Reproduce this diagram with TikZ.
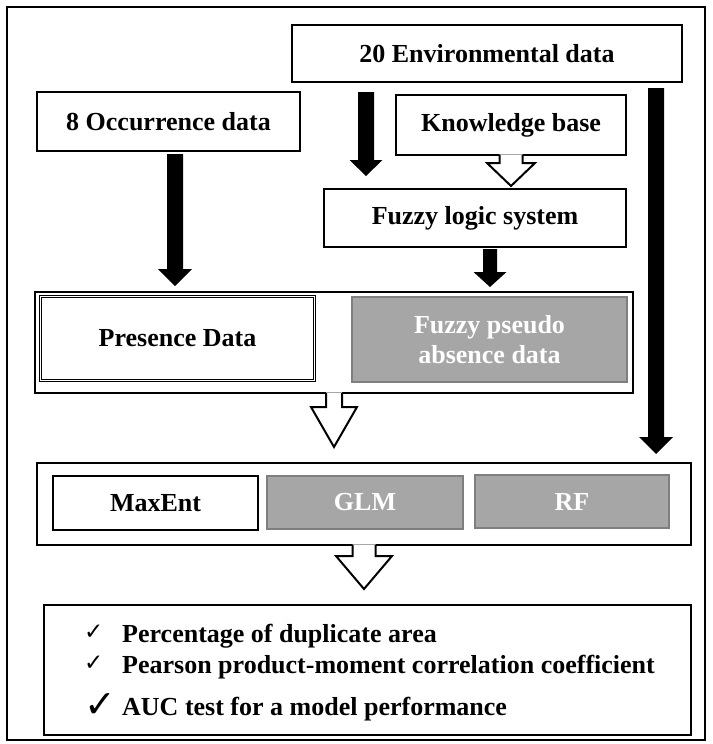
\documentclass[tikz,border=0pt]{standalone}
\usepackage{fontspec}
\setmainfont{Liberation Serif}
\newfontfamily\symfont{DejaVu Sans}
\usetikzlibrary{calc}
\definecolor{boxgray}{HTML}{A6A6A6}
\definecolor{edgegray}{HTML}{7F7F7F}
\newcommand\lbl{\bfseries\fontsize{26}{30}\selectfont}
\newcommand\solidarrow[5]{%
  \fill let \p1=(#1), \p2=(#2) in
   (\x1-#3,\y1) -- (\x1-#3,\y2+#5) -- (\x1-#4,\y2+#5) -- (\x1,\y2) --
   (\x1+#4,\y2+#5) -- (\x1+#3,\y2+#5) -- (\x1+#3,\y1) -- cycle;}
\newcommand\openarrow[5]{%
  \fill[white] let \p1=(#1), \p2=(#2) in
   (\x1-#3,\y1+1.6pt) -- (\x1-#3,\y2+#5) -- (\x1-#4,\y2+#5) -- (\x1,\y2) --
   (\x1+#4,\y2+#5) -- (\x1+#3,\y2+#5) -- (\x1+#3,\y1+1.6pt) -- cycle;
  \draw[line width=2pt, line join=miter] let \p1=(#1), \p2=(#2) in
   (\x1-#3,\y1+1pt) -- (\x1-#3,\y2+#5) -- (\x1-#4,\y2+#5) -- (\x1,\y2) --
   (\x1+#4,\y2+#5) -- (\x1+#3,\y2+#5) -- (\x1+#3,\y1+1pt);}
\tikzset{
  box/.style={draw, line width=2pt, fill=white, inner sep=0pt, font=\lbl, align=center},
  graybox/.style={draw=edgegray, line width=2pt, fill=boxgray, text=white, inner sep=0pt, font=\lbl, align=center},
  dblbox/.style={draw, line width=1.3pt, double=white, double distance=1.2pt, fill=white, inner sep=0pt, font=\lbl, align=center},
  listtext/.style={anchor=base west, inner sep=0pt, font=\lbl},
  checkmark/.style={anchor=base west, inner sep=0pt}
}
\begin{document}
\begin{tikzpicture}[x=1pt, y=-1pt]
\useasboundingbox (0,0) rectangle (712,744);
\fill[white] (0,0) rectangle (712,744);
% outer frame
\draw[line width=2pt] (7,7) rectangle (705,740);

% boxes
\node[box, minimum width=390pt, minimum height=57pt] (env) at (487,53.5) {20 Environmental data};
\node[box, minimum width=263pt, minimum height=59pt] (occ) at (168.5,121.5) {8 Occurrence data};
\node[box, minimum width=230pt, minimum height=60pt] (kb) at (511,125) {Knowledge base};
\node[box, minimum width=302pt, minimum height=58pt] (fls) at (475,218) {Fuzzy logic system};

\node[box, minimum width=598pt, minimum height=101pt] (grp) at (334,342.5) {};
\node[dblbox, minimum width=274pt, minimum height=84pt] (pres) at (177.5,338.5) {Presence Data};
\node[graybox, minimum width=275pt, minimum height=85pt] (pseudo) at (489.5,339.5) {Fuzzy pseudo\\absence data};

\node[box, minimum width=654pt, minimum height=82pt] (mod) at (364,504) {};
\node[box, minimum width=205pt, minimum height=54pt] (maxent) at (155.5,503) {MaxEnt};
\node[graybox, minimum width=196pt, minimum height=53pt] (glm) at (365,502.5) {GLM};
\node[graybox, minimum width=194pt, minimum height=53pt] (rf) at (572,501.5) {RF};

\node[box, minimum width=647pt, minimum height=130pt] (res) at (367.5,670) {};

% list
\node[checkmark, font=\symfont\fontsize{23}{23}\selectfont] (c1) at (84,639) {✓};
\node[listtext] (l1) at (122,642) {Percentage of duplicate area};
\node[checkmark, font=\symfont\fontsize{23}{23}\selectfont] (c2) at (84,670) {✓};
\node[listtext] (l2) at (122,673) {Pearson product-moment correlation coefficient};
\node[checkmark, font=\symfont\fontsize{38}{38}\selectfont] (c3) at (84,717) {✓};
\node[listtext] (l3) at (122,715) {AUC test for a model performance};

% x positions of the solid arrows
\coordinate (cx1) at (366,0);
\coordinate (cx2) at (175,0);
\coordinate (cx3) at (490,0);
\coordinate (cx4) at (656,0);

% solid arrows
\solidarrow{$(cx1 |- env.south)+(0,9)$}{$(cx1 |- fls.north)+(0,-12)$}{8pt}{16.5pt}{16pt}
\solidarrow{$(cx2 |- occ.south)+(0,2)$}{$(cx2 |- grp.north)+(0,-5)$}{8pt}{17pt}{17pt}
\solidarrow{$(cx3 |- fls.south)+(0,1)$}{$(cx3 |- grp.north)+(0,-4)$}{7pt}{16.5pt}{15pt}
\solidarrow{$(cx4 |- env.south)+(0,5)$}{$(cx4 |- mod.north)+(0,-8)$}{8pt}{17pt}{17pt}

% open arrows
\openarrow{kb.south}{$(kb.south |- fls.north)+(0,-2)$}{11.5pt}{24pt}{23pt}
\openarrow{grp.south}{$(grp.south |- mod.north)+(0,-15)$}{8pt}{23pt}{40pt}
\openarrow{mod.south}{$(mod.south |- res.north)+(0,-15)$}{11.5pt}{28pt}{33pt}
\end{tikzpicture}
\end{document}
